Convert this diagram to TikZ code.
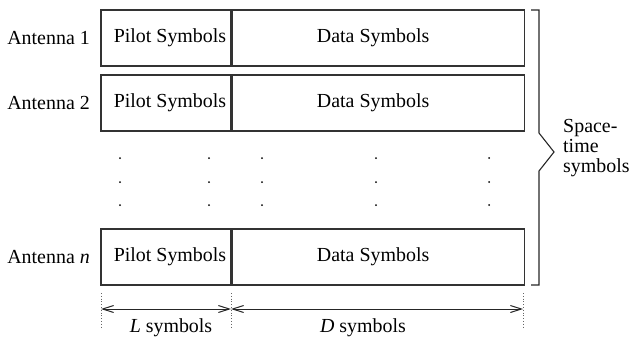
\documentclass[tikz,border=0pt]{standalone}
\usepackage{fontspec}
\setmainfont{Liberation Serif}
\usetikzlibrary{arrows.meta}
\begin{document}
\begin{tikzpicture}[x=1bp,y=-1bp,
  every node/.style={font=\fontsize{20}{20.5}\selectfont, inner sep=0pt},
  box/.style={draw=black!80, line width=1.1bp, minimum height=56bp},
  pilotbox/.style={box, minimum width=130bp},
  databox/.style={box, minimum width=292bp},
  dimline/.style={draw=black!85, line width=1bp, {Straight Barb[length=11bp,width=7bp]}-{Straight Barb[length=11bp,width=7bp]}},
  guide/.style={draw=black!60, line width=0.8bp, dotted},
  dotmark/.style={fill=black, circle, minimum size=2bp, inner sep=0pt},
  antlabel/.style={anchor=east}]
\useasboundingbox (0,0) rectangle (631,338);
% rows
\foreach \r/\y/\lab in {1/38/{Antenna 1}, 2/103/{Antenna 2}, n/257/{Antenna \textit{n}}}{
  \node[pilotbox] (p\r) at (166,\y) {};
  \node[databox, anchor=west] (d\r) at (p\r.east) {};
  \node (pt\r) at ([xshift=4bp]p\r.center) {Pilot Symbols};
  \node (dt\r) at ([xshift=-5bp]d\r.center) {Data Symbols};
  \node[antlabel] (a\r) at (90,\y) {\lab};
}
% dots
\foreach \x in {120,209,262,376,489}{
  \foreach \y in {158,182,205}{
    \node[dotmark] at (\x,\y) {};
  }
}
% brace
\coordinate (bt) at (531,10);
\coordinate (bb) at (531,285);
\draw[black!85, line width=1.1bp] (bt) -- (539,10) -- (539,133) -- (554,152) -- (539,171) -- (539,285) -- (bb);
\node[anchor=west, align=left, font=\fontsize{20}{20}\selectfont] (st) at (563,148) {Space-\\time\\symbols};
% dimension guides
\coordinate (g1t) at (101,293); \coordinate (g1b) at (101,327);
\coordinate (g2t) at (231,293); \coordinate (g2b) at (231,327);
\coordinate (g3t) at (523,293); \coordinate (g3b) at (523,327);
\draw[guide] (g1t) -- (g1b);
\draw[guide] (g2t) -- (g2b);
\draw[guide] (g3t) -- (g3b);
\coordinate (m1) at (101,309); \coordinate (m2) at (231,309); \coordinate (m3) at (523,309);
\draw[dimline] (m1) -- (m2);
\draw[dimline] (m2) -- (m3);
\node (lL) at (171,328) {\textit{L} symbols};
\node (lD) at (363,328) {\textit{D} symbols};
\end{tikzpicture}
\end{document}
